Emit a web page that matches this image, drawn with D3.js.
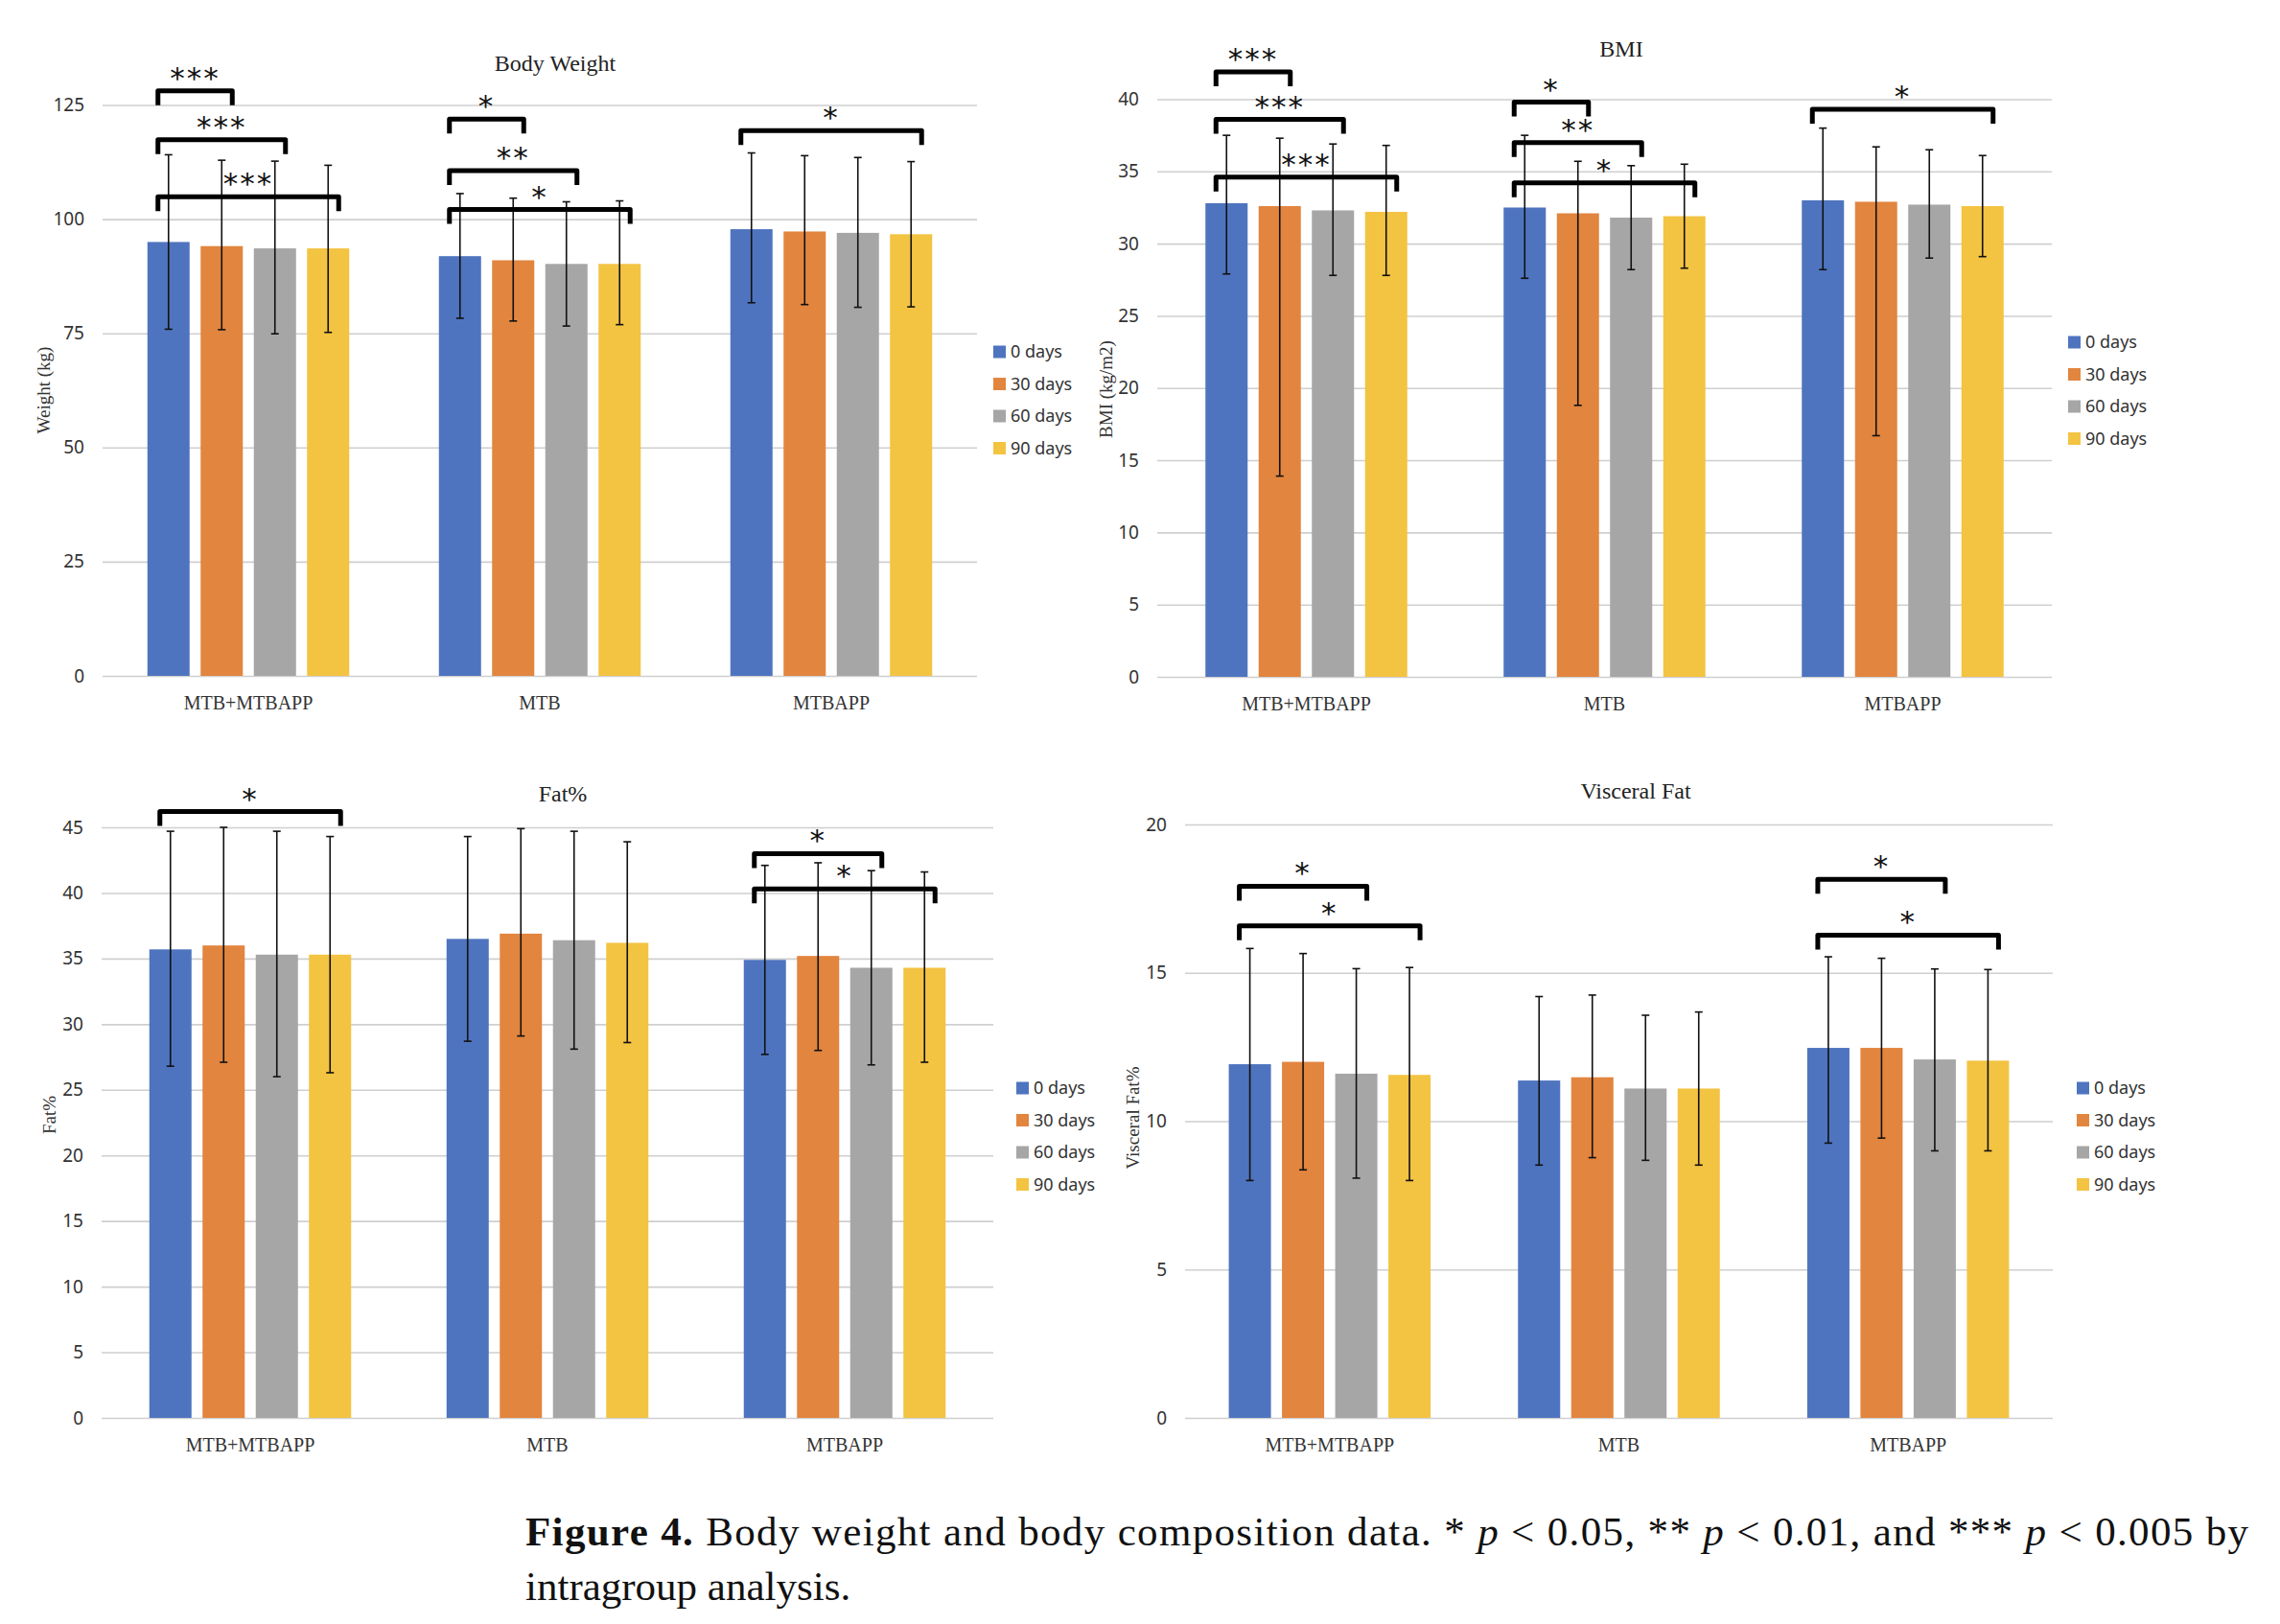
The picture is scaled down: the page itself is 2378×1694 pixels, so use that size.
<!DOCTYPE html>
<html>
<head>
<meta charset="utf-8">
<script src="https://cdn.jsdelivr.net/npm/d3@7"></script>
<style>
  body { margin: 0; background: #fff; }
  svg { display: block; }
</style>
</head>
<body>
<svg id="fig" width="2378" height="1694"></svg>
<script>
const categories = ['MTB+MTBAPP', 'MTB', 'MTBAPP'];
const seriesNames = ['0 days', '30 days', '60 days', '90 days'];
const seriesColors = ['#4f74bf', '#e2853f', '#a6a6a6', '#f3c342'];

// rows = categories, columns = 0 / 30 / 60 / 90 days
const weightMean = [[95.0, 94.1, 93.6, 93.6], [91.9, 91.0, 90.2, 90.2], [97.8, 97.3, 97.0, 96.7]];
const weightHigh = [[114.1, 112.9, 112.7, 111.8], [105.6, 104.6, 103.8, 104.0], [114.5, 113.9, 113.5, 112.6]];
const weightLow = [[75.9, 75.8, 74.9, 75.2], [78.3, 77.7, 76.6, 76.9], [81.7, 81.3, 80.7, 80.8]];
const weightTicks = [0, 25, 50, 75, 100, 125];

const bmiMean = [[32.8, 32.6, 32.3, 32.2], [32.5, 32.1, 31.8, 31.9], [33.0, 32.9, 32.7, 32.6]];
const bmiHigh = [[37.5, 37.3, 36.9, 36.8], [37.5, 35.7, 35.4, 35.5], [38.0, 36.7, 36.5, 36.1]];
const bmiLow = [[27.9, 13.9, 27.8, 27.8], [27.6, 18.8, 28.2, 28.3], [28.2, 16.7, 29.0, 29.1]];
const bmiTicks = [0, 5, 10, 15, 20, 25, 30, 35, 40];

const fatMean = [[35.7, 36.0, 35.3, 35.3], [36.5, 36.9, 36.4, 36.2], [34.9, 35.2, 34.3, 34.3]];
const fatHigh = [[44.7, 45.0, 44.7, 44.3], [44.3, 44.9, 44.7, 43.9], [42.1, 42.3, 41.7, 41.6]];
const fatLow = [[26.8, 27.1, 26.0, 26.3], [28.7, 29.1, 28.1, 28.6], [27.7, 28.0, 26.9, 27.1]];
const fatTicks = [0, 5, 10, 15, 20, 25, 30, 35, 40, 45];

const visceralMean = [[11.92, 12.0, 11.6, 11.56], [11.37, 11.48, 11.1, 11.1], [12.47, 12.47, 12.08, 12.04]];
const visceralHigh = [[15.82, 15.65, 15.14, 15.18], [14.2, 14.25, 13.57, 13.68], [15.54, 15.49, 15.13, 15.11]];
const visceralLow = [[8.0, 8.36, 8.08, 8.0], [8.52, 8.77, 8.68, 8.52], [9.26, 9.43, 9.0, 9.0]];
const visceralTicks = [0, 5, 10, 15, 20];

// significance brackets: [category, from series, to series, label, level]
const weightSig = [[0, 0, 1, '***', 128.1], [0, 0, 2, '***', 117.4], [0, 0, 3, '***', 104.9],
                   [1, 0, 1, '*', 121.9], [1, 0, 2, '**', 110.6], [1, 0, 3, '*', 102.1],
                   [2, 0, 3, '*', 119.4]];
const bmiSig = [[0, 0, 1, '***', 41.9], [0, 0, 2, '***', 38.6], [0, 0, 3, '***', 34.6],
                [1, 0, 1, '*', 39.8], [1, 0, 2, '**', 37.0], [1, 0, 3, '*', 34.2],
                [2, 0, 3, '*', 39.3]];
const fatSig = [[0, 0, 3, '*', 46.2], [2, 0, 2, '*', 43.0], [2, 0, 3, '*', 40.3]];
const visceralSig = [[0, 0, 2, '*', 17.92], [0, 0, 3, '*', 16.58], [2, 0, 2, '*', 18.15], [2, 0, 3, '*', 16.27]];

const panels = [
    { title: 'Body Weight', yLabel: 'Weight (kg)', mean: weightMean, high: weightHigh, low: weightLow,
      ticks: weightTicks, sig: weightSig,
      box: { left: 107, right: 1019, top: 109.5, bottom: 705 },
      titlePos: [579, 66], yLabelPos: [45, 407], legendPos: [1036, 367] },
    { title: 'BMI', yLabel: 'BMI (kg/m2)', mean: bmiMean, high: bmiHigh, low: bmiLow,
      ticks: bmiTicks, sig: bmiSig,
      box: { left: 1207, right: 2140, top: 103.5, bottom: 706 },
      titlePos: [1691, 51], yLabelPos: [1153, 406], legendPos: [2157, 357] },
    { title: 'Fat%', yLabel: 'Fat%', mean: fatMean, high: fatHigh, low: fatLow,
      ticks: fatTicks, sig: fatSig,
      box: { left: 106, right: 1036, top: 863, bottom: 1479 },
      titlePos: [587, 828], yLabelPos: [51, 1163], legendPos: [1060, 1135] },
    { title: 'Visceral Fat', yLabel: 'Visceral Fat%', mean: visceralMean, high: visceralHigh, low: visceralLow,
      ticks: visceralTicks, sig: visceralSig,
      box: { left: 1236, right: 2141, top: 860, bottom: 1479 },
      titlePos: [1706, 825], yLabelPos: [1181, 1166], legendPos: [2166, 1135] }
];

const serif = '"Liberation Serif", "DejaVu Serif", serif';
const sans = '"Noto Sans", "Open Sans", sans-serif';

const svg = d3.select('#fig');
svg.append('rect').attr('width', 2378).attr('height', 1694).attr('fill', '#fff');

panels.forEach((p) => drawPanel(p));

function drawPanel(p) {
    const b = p.box;
    const g = svg.append('g');
    const yMax = p.ticks[p.ticks.length - 1];

    const y = d3.scaleLinear().domain([0, yMax]).range([b.bottom, b.top]);
    const x0 = d3.scaleBand().domain(categories).range([b.left, b.right]);
    const x1 = d3.scaleBand().domain(seriesNames).range([-105.25, 105.25]).paddingInner(0.207);
    const bw = x1.bandwidth();
    const barX = (ci, si) => x0(categories[ci]) + x0.bandwidth() / 2 + x1(seriesNames[si]);

    // Grid / y axis
    const yAxis = g.append('g')
        .attr('transform', `translate(${b.left},0)`)
        .call(d3.axisLeft(y).tickValues(p.ticks).tickSize(-(b.right - b.left)).tickPadding(19));
    yAxis.select('.domain').remove();
    yAxis.selectAll('.tick line').attr('stroke', '#cfcfcf').attr('stroke-width', 1.6);
    yAxis.selectAll('.tick text')
        .attr('font-family', sans).attr('font-size', 19).attr('fill', '#333');

    // Category axis
    const xAxis = g.append('g')
        .attr('transform', `translate(0,${b.bottom})`)
        .call(d3.axisBottom(x0).tickSize(0).tickPadding(21));
    xAxis.select('.domain').remove();
    xAxis.selectAll('.tick text')
        .attr('font-family', serif).attr('font-size', 20).attr('fill', '#333');

    // Bars
    const rows = [];
    p.mean.forEach((row, ci) => row.forEach((v, si) => {
        rows.push({ ci, si, v, hi: p.high[ci][si], lo: p.low[ci][si] });
    }));

    g.append('g').selectAll('rect')
        .data(rows)
        .join('rect')
        .attr('x', (d) => barX(d.ci, d.si))
        .attr('width', bw)
        .attr('y', (d) => y(d.v))
        .attr('height', (d) => y(0) - y(d.v))
        .attr('fill', (d) => seriesColors[d.si]);

    // Error bars
    const err = g.append('g').attr('stroke', '#111').attr('stroke-width', 1.6);
    rows.forEach((d) => {
        const cx = barX(d.ci, d.si) + bw / 2;
        err.append('line').attr('x1', cx).attr('x2', cx).attr('y1', y(d.hi)).attr('y2', y(d.lo));
        err.append('line').attr('x1', cx - 4).attr('x2', cx + 4).attr('y1', y(d.hi)).attr('y2', y(d.hi));
        err.append('line').attr('x1', cx - 4).attr('x2', cx + 4).attr('y1', y(d.lo)).attr('y2', y(d.lo));
    });

    // Significance brackets
    const br = g.append('g');
    p.sig.forEach(([ci, from, to, label, level]) => {
        const xa = barX(ci, from) + bw * 0.25;
        const xb = barX(ci, to) + bw * 0.75;
        const yt = y(level);
        br.append('path')
            .attr('d', `M${xa},${yt + 15}V${yt}H${xb}V${yt + 15}`)
            .attr('fill', 'none')
            .attr('stroke', '#000')
            .attr('stroke-width', 5)
            .attr('stroke-linejoin', 'round');
        br.append('text')
            .attr('x', (xa + xb) / 2)
            .attr('y', yt - 3)
            .attr('text-anchor', 'middle')
            .attr('font-family', '"DejaVu Sans", sans-serif')
            .attr('font-size', 31)
            .attr('letter-spacing', 2)
            .attr('fill', '#111')
            .text(label);
    });

    // Title
    g.append('text')
        .attr('x', p.titlePos[0]).attr('y', p.titlePos[1]).attr('dy', '0.35em')
        .attr('text-anchor', 'middle')
        .attr('font-family', serif).attr('font-size', 24).attr('fill', '#222')
        .text(p.title);

    // Y label
    g.append('text')
        .attr('transform', `translate(${p.yLabelPos[0]},${p.yLabelPos[1]}) rotate(-90)`)
        .attr('dy', '0.35em')
        .attr('text-anchor', 'middle')
        .attr('font-family', serif).attr('font-size', 19).attr('fill', '#333')
        .text(p.yLabel);

    // Legend
    const lg = g.append('g').attr('transform', `translate(${p.legendPos[0]},${p.legendPos[1]})`);
    const item = lg.selectAll('g').data(seriesNames).join('g')
        .attr('transform', (d, i) => `translate(0,${i * 33.5})`);
    item.append('rect').attr('x', 0).attr('y', -6.5).attr('width', 13).attr('height', 13)
        .attr('fill', (d, i) => seriesColors[i]);
    item.append('text').attr('x', 18).attr('dy', '0.35em')
        .attr('font-family', sans).attr('font-size', 18).attr('fill', '#333')
        .text((d) => d);
}

// Caption
const cap = svg.append('g')
    .attr('font-family', serif).attr('font-size', 43).attr('fill', '#111')
    .style('white-space', 'pre');
const line1 = cap.append('text').attr('x', 548).attr('y', 1612)
    .attr('textLength', 1797).attr('lengthAdjust', 'spacing');
line1.append('tspan').attr('font-weight', 'bold').text('Figure 4.');
line1.append('tspan').text('  Body weight and body composition data.  * ');
line1.append('tspan').attr('font-style', 'italic').text('p');
line1.append('tspan').text(' < 0.05, ** ');
line1.append('tspan').attr('font-style', 'italic').text('p');
line1.append('tspan').text(' < 0.01, and *** ');
line1.append('tspan').attr('font-style', 'italic').text('p');
line1.append('tspan').text(' < 0.005 by');
cap.append('text').attr('x', 548).attr('y', 1669).text('intragroup analysis.');
</script>
</body>
</html>
